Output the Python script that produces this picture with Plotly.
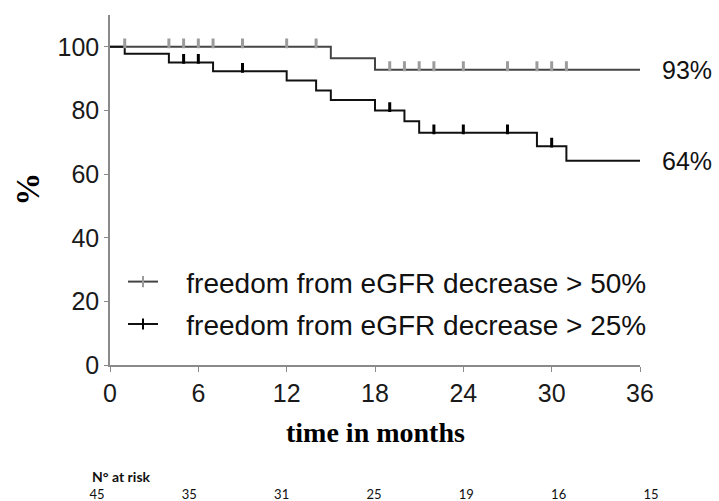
import numpy as np
import plotly.graph_objects as go

# ---- data ----
months_ticks = [0, 6, 12, 18, 24, 30, 36]
pct_ticks = [0, 20, 40, 60, 80, 100]

t50 = [0, 15, 18, 36]
s50 = [100, 96.4, 92.8, 92.8]
cens50 = [1, 4, 5, 6, 7, 9, 12, 14, 19, 20, 21, 22, 24, 27, 29, 30, 31]

t25 = [0, 1, 4, 7, 12, 14, 15, 18, 20, 21, 29, 31, 36]
s25 = [100, 97.8, 95.1, 92.3, 89.4, 86.3, 83.3, 80.0, 76.6, 73.0, 68.8, 64.2, 64.2]
cens25 = [5, 6, 9, 19, 22, 24, 27, 30]

name50 = "freedom from eGFR decrease > 50%"
name25 = "freedom from eGFR decrease > 25%"
end50 = "93%"
end25 = "64%"

risk_times = [0, 6, 12, 18, 24, 30, 36]
risk_n = [45, 35, 31, 25, 19, 16, 15]


def step_value(times, surv, x):
    idx = np.searchsorted(np.array(times), np.array(x), side="right") - 1
    return np.array(surv)[idx]


C50_LINE = "#454545"
C50_MARK = "#9c9c9c"
C25_LINE = "#111111"
C25_MARK = "#000000"
MARK_LIFT = 1.1  # marks sit on top of the curve
GAP = "\u00a0\u00a0\u00a0"

fig = go.Figure()

fig.add_trace(go.Scatter(x=t50, y=s50, mode="lines", line=dict(shape="hv", color=C50_LINE, width=2),
                         showlegend=False, hoverinfo="skip"))
fig.add_trace(go.Scatter(x=t25, y=s25, mode="lines", line=dict(shape="hv", color=C25_LINE, width=2),
                         showlegend=False, hoverinfo="skip"))
fig.add_trace(go.Scatter(x=cens50, y=step_value(t50, s50, cens50) + MARK_LIFT, mode="markers",
                         marker=dict(symbol="line-ns", size=7, line=dict(width=3, color=C50_MARK)),
                         showlegend=False, hoverinfo="skip"))
fig.add_trace(go.Scatter(x=cens25, y=step_value(t25, s25, cens25) + MARK_LIFT, mode="markers",
                         marker=dict(symbol="line-ns", size=7, line=dict(width=3, color=C25_MARK)),
                         showlegend=False, hoverinfo="skip"))

# legend entries
fig.add_trace(go.Scatter(x=[None], y=[None], mode="lines+markers", name=GAP + name50, legendgroup="a",
                         line=dict(color=C50_LINE, width=2),
                         marker=dict(symbol="line-ns", size=8, line=dict(width=2, color=C50_MARK))))
fig.add_trace(go.Scatter(x=[None], y=[None], mode="lines+markers", name=GAP + name25, legendgroup="b",
                         line=dict(color=C25_LINE, width=2),
                         marker=dict(symbol="line-ns", size=8, line=dict(width=2, color=C25_MARK))))

# number at risk row on its own axis
fig.add_trace(go.Scatter(x=risk_times, y=[0] * len(risk_times), text=[str(n) for n in risk_n],
                         mode="text", textposition="middle center",
                         textfont=dict(family="Lato", size=13, color="#111"),
                         xaxis="x2", yaxis="y2", showlegend=False, hoverinfo="skip", cliponaxis=False))

W, H = 719, 515
ML, MR, MT, MB = 60, 40, 15, 4
PW = W - ML - MR
PH = H - MT - MB
BOT = H - MB  # pixel of paper bottom
VSCALE = 496 / 483  # the page renders this paper slightly shorter; compensate


def px_x(p):
    return (p - ML) / PW


def px_y(p):
    q = MT + (p - MT) * VSCALE
    return (BOT - q) / PH


X0PX, X36PX = 110, 640
ydom0 = px_y(366)

# at-risk axis: 0 -> 97px, 36 -> 651px
px_per = (651 - 97) / 36
x2_lo = 0 - (97 - ML) / px_per
x2_hi = 36 + (ML + PW - 651) / px_per

fig.update_layout(
    width=W, height=H,
    margin=dict(l=ML, r=MR, t=MT, b=MB),
    paper_bgcolor="white", plot_bgcolor="white",
    font=dict(family="Liberation Sans, Arial", color="#1a1a1a"),
    xaxis=dict(range=[0, 36], tickvals=months_ticks, showgrid=False, zeroline=False,
               domain=[px_x(X0PX), px_x(X36PX)],
               showline=True, linecolor="#8a8a8a", linewidth=1.5,
               ticks="outside", ticklen=5, tickcolor="#8a8a8a", tickwidth=1,
               tickfont=dict(size=25, color="#1a1a1a"), anchor="y"),
    yaxis=dict(range=[0, 110], tickvals=pct_ticks, showgrid=False, zeroline=False,
               domain=[ydom0, 1], anchor="x",
               showline=True, linecolor="#8a8a8a", linewidth=1.5,
               ticks="outside", ticklen=4, tickcolor="#8a8a8a", tickwidth=1,
               tickfont=dict(size=25, color="#1a1a1a")),
    xaxis2=dict(range=[x2_lo, x2_hi], domain=[0, 1], anchor="y2", visible=False),
    yaxis2=dict(range=[0, 1], domain=[max(px_y(497), 0), px_y(447)], anchor="x2", visible=False),
    legend=dict(x=px_x(123), xanchor="left", y=px_y(303.5), yanchor="middle",
                bgcolor="rgba(0,0,0,0)", font=dict(size=28, color="#111"),
                itemwidth=30, tracegroupgap=3, traceorder="grouped"),
    showlegend=True,
)

fig.add_annotation(x=36, y=92.8, xref="x", yref="y", text=end50, showarrow=False,
                   xanchor="left", yanchor="middle", xshift=20, font=dict(size=25, color="#111"))
fig.add_annotation(x=36, y=64.2, xref="x", yref="y", text=end25, showarrow=False,
                   xanchor="left", yanchor="middle", xshift=20, font=dict(size=25, color="#111"))

fig.add_annotation(x=px_x(375), y=px_y(433), xref="paper", yref="paper", text="<b>time in months</b>",
                   showarrow=False, xanchor="center", yanchor="middle",
                   font=dict(family="Liberation Serif, Times New Roman", size=28, color="#000"))
fig.add_annotation(x=px_x(28), y=px_y(190), xref="paper", yref="paper", text="<b>%</b>",
                   showarrow=False, xanchor="center", yanchor="middle", textangle=-90,
                   font=dict(family="Liberation Serif, Times New Roman", size=33, color="#000"))
fig.add_annotation(x=px_x(90), y=px_y(477), xref="paper", yref="paper", text="<b>N° at risk</b>",
                   showarrow=False, xanchor="left", yanchor="middle",
                   font=dict(family="Lato", size=14, color="#111"))

post = (
    "document.body.style.margin='0';"
    "document.body.style.overflow='hidden';"
)
fig.write_html("out.html", config={"displayModeBar": False}, post_script=post)
